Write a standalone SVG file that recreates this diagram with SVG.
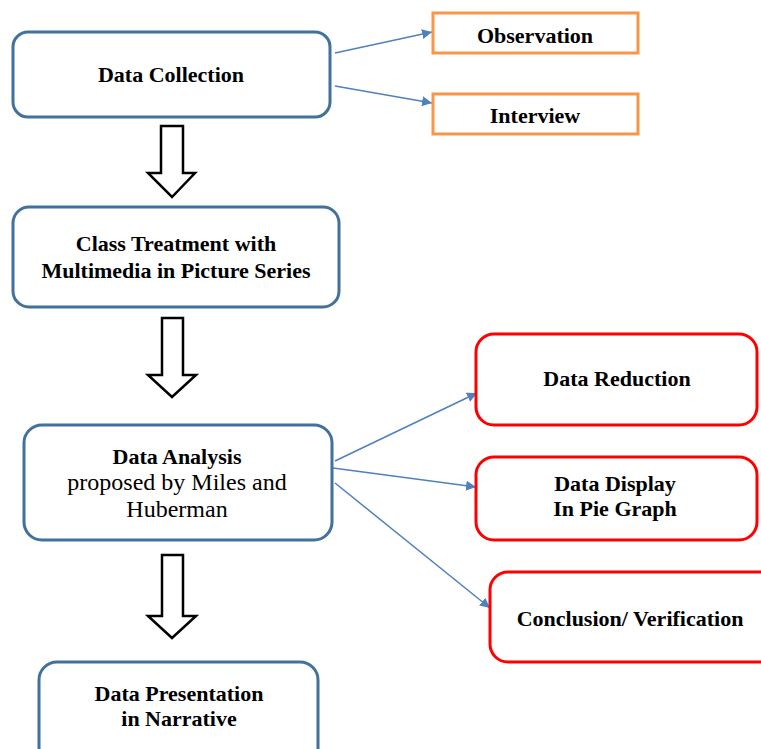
<svg xmlns="http://www.w3.org/2000/svg" width="761" height="749" viewBox="0 0 761 749">
<defs>
<style>
.bx{fill:#fff;stroke:#41719C;stroke-width:3}
.ob{fill:#fff;stroke:#F79646;stroke-width:3}
.rd{fill:#fff;stroke:#FF0000;stroke-width:3}
.blk{fill:#fff;stroke:#000;stroke-width:2.5;stroke-linejoin:miter}
.cn{stroke:#4F81BD;stroke-width:1.5;fill:none}
text{fill:#000;text-anchor:middle}
.b{font-weight:bold;font-size:22px}
.r{font-size:24px}
</style>
<marker id="ah" viewBox="0 0 10 10" refX="10" refY="5" markerWidth="10" markerHeight="10" markerUnits="userSpaceOnUse" orient="auto">
<path d="M0,0 L10,5 L0,10 z" fill="#4F81BD"/>
</marker>
</defs>
<g id="connectors">
<line class="cn" x1="335" y1="53" x2="432" y2="32" marker-end="url(#ah)"/>
<line class="cn" x1="335" y1="86" x2="432" y2="103" marker-end="url(#ah)"/>
<line class="cn" x1="335" y1="461" x2="477" y2="393" marker-end="url(#ah)"/>
<line class="cn" x1="333" y1="468" x2="476" y2="487" marker-end="url(#ah)"/>
<line class="cn" x1="335" y1="483" x2="490" y2="608" marker-end="url(#ah)"/>
<path class="blk" d="M161,126 H183 V173 H195 L172,197 L148,173 H161 Z"/>
<path class="blk" d="M162,318 H183 V375 H196 L172,397 L148,375 H162 Z"/>
<path class="blk" d="M162,555 H183 V616 H196 L172,638 L148,616 H162 Z"/>
</g>
<g font-family="Liberation Serif, DejaVu Serif, serif">
<g id="data-collection">
<rect class="bx" x="13" y="32" width="317" height="85" rx="15"/>
<text class="b" x="171" y="82">Data Collection</text>
</g>
<g id="observation">
<rect class="ob" x="433" y="13" width="205" height="40"/>
<text class="b" x="535" y="43">Observation</text>
</g>
<g id="interview">
<rect class="ob" x="433" y="94" width="205" height="40"/>
<text class="b" x="535" y="123">Interview</text>
</g>
<g id="class-treatment">
<rect class="bx" x="13" y="207" width="326" height="100" rx="16"/>
<text class="b" x="176" y="251">Class Treatment with</text>
<text class="b" x="176" y="278">Multimedia in Picture Series</text>
</g>
<g id="data-analysis">
<rect class="bx" x="24" y="425" width="308" height="115" rx="18"/>
<text class="b" x="177" y="464">Data Analysis</text>
<text class="r" x="177" y="490">proposed by Miles and</text>
<text class="r" x="177" y="517">Huberman</text>
</g>
<g id="data-presentation">
<rect class="bx" x="39" y="662" width="279" height="110" rx="18"/>
<text class="b" x="179" y="701">Data Presentation</text>
<text class="b" x="179" y="726">in Narrative</text>
</g>
<g id="data-reduction">
<rect class="rd" x="476" y="334" width="281" height="91" rx="18"/>
<text class="b" x="617" y="386">Data Reduction</text>
</g>
<g id="data-display">
<rect class="rd" x="476" y="457" width="281" height="83" rx="18"/>
<text class="b" x="615" y="491">Data Display</text>
<text class="b" x="615" y="516">In Pie Graph</text>
</g>
<g id="conclusion">
<rect class="rd" x="490" y="572" width="290" height="90" rx="18"/>
<text class="b" x="630" y="626">Conclusion/ Verification</text>
</g>
</g>
</svg>
